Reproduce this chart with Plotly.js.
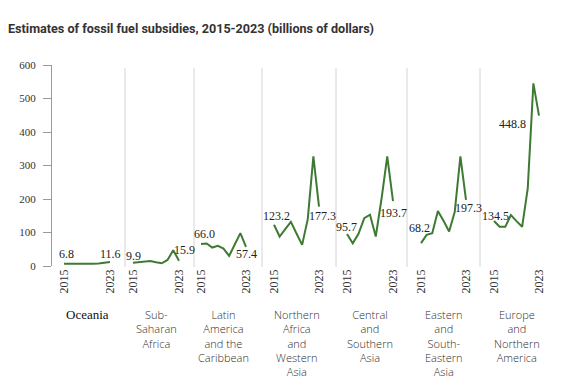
<!DOCTYPE html>
<html>
<head>
<meta charset="utf-8">
<script src="https://cdn.plot.ly/plotly-3.0.1.min.js"></script>
<style>html,body{margin:0;padding:0;background:#fff;}#chart{width:562px;height:387px;}</style>
</head>
<body>
<div id="chart"></div>
<script>
// ---- data ----
const years = [2015, 2016, 2017, 2018, 2019, 2020, 2021, 2022, 2023];
const regions = [
  "Oceania",
  "Sub-<br>Saharan<br>Africa",
  "Latin<br>America<br>and the<br>Caribbean",
  "Northern<br>Africa<br>and<br>Western<br>Asia",
  "Central<br>and<br>Southern<br>Asia",
  "Eastern<br>and<br>South-<br>Eastern<br>Asia",
  "Europe<br>and<br>Northern<br>America"
];
const oceania        = [6.8, 6.5, 6.8, 7.0, 7.2, 6.9, 7.5, 9.0, 11.6];
const subSaharan     = [9.9, 11, 12, 15, 11, 8, 18, 47, 15.9];
const latinAmerica   = [66.0, 67, 55, 60, 52, 30, 64, 98, 57.4];
const northAfricaWAs = [123.2, 88, 110, 132, 97, 63, 140, 327, 177.3];
const centralSouthAs = [95.7, 68, 96, 143, 153, 88, 200, 327, 193.7];
const eastSouthEastAs= [68.2, 93, 98, 164, 135, 103, 162, 327, 197.3];
const europeNAmerica = [134.5, 117, 117, 152, 134, 117, 232, 545, 448.8];
const yTicks = [0, 100, 200, 300, 400, 500, 600];
const xTickVals = [2015, 2023];
const xTickText = ["2015", "2023"];

const series = [oceania, subSaharan, latinAmerica, northAfricaWAs, centralSouthAs, eastSouthEastAs, europeNAmerica];

// ---- layout geometry (pixels) ----
const W = 562, H = 387;
const mL = 52, mR = 10, mT = 65, mB = 121;
const plotW = W - mL - mR, plotH = H - mT - mB;
const bounds = [52, 125, 194, 262, 336, 407, 480, 552];
const pos15 = [64, 133, 201, 274, 347, 421, 494];
const pos23 = [110, 179, 246, 319, 393, 466, 539];
const firstShift = [[2, 10], [0, 7], [3, 10], [2, 9], [-1, 7], [-2, 15], [1, 5]];
const lastShift  = [[0, 8], [5, 11], [0, -7], [3, -9], [0, -12], [2, -8], [-27, -8]];
const labelTop = 305;

const green = "#3f7a33";
const serif = "'Liberation Serif', 'Times New Roman', serif";
const sans = "'Open Sans', Lato, sans-serif";

const traces = [];
const layout = {
  width: W, height: H,
  margin: {l: mL, r: mR, t: mT, b: mB, pad: 0},
  paper_bgcolor: "#fff", plot_bgcolor: "#fff",
  showlegend: false,
  title: {
    text: "<b>Estimates of fossil fuel subsidies, 2015-2023 (billions of dollars)</b>",
    font: {family: "Roboto, sans-serif", size: 12.6, color: "#333"},
    xref: "container", yref: "container",
    x: 8 / W, xanchor: "left",
    y: 1 - 29 / H, yanchor: "middle"
  },
  yaxis: {
    range: [0, 600], tickvals: yTicks, ticktext: yTicks.map(String),
    showgrid: false, zeroline: false,
    showline: true, linecolor: "#9a9a9a", linewidth: 1,
    ticks: "outside", ticklen: 8, tickcolor: "#9a9a9a",
    ticklabelstandoff: 5,
    tickfont: {family: serif, size: 11, color: "#333"},
    fixedrange: true
  },
  shapes: [],
  annotations: []
};

series.forEach((vals, i) => {
  const n = i + 1;
  const xa = n === 1 ? "x" : "x" + n;
  const axKey = n === 1 ? "xaxis" : "xaxis" + n;
  const ppy = (pos23[i] - pos15[i]) / 8;
  const left = 2015 - (pos15[i] - bounds[i]) / ppy;
  const right = 2015 + (bounds[i + 1] - pos15[i]) / ppy;
  layout[axKey] = {
    domain: [(bounds[i] - mL) / plotW, (bounds[i + 1] - mL) / plotW],
    range: [left, right],
    anchor: "y",
    tickvals: xTickVals, ticktext: xTickText,
    tickangle: -90,
    showgrid: false, zeroline: false, showline: false,
    ticks: "",
    tickfont: {family: serif, size: 12, color: "#333"},
    fixedrange: true
  };
  traces.push({
    type: "scatter", mode: "lines",
    x: years, y: vals, xaxis: xa, yaxis: "y",
    line: {color: green, width: 2},
    hoverinfo: "skip"
  });
  if (i > 0) {
    const px = (bounds[i] - mL) / plotW;
    layout.shapes.push({
      type: "line", xref: "paper", yref: "paper",
      x0: px, x1: px, y0: -0.005, y1: 0.985,
      line: {color: "#d4d4d4", width: 1}
    });
  }
  // region label
  layout.annotations.push({
    xref: xa, yref: "paper", x: 2019,
    y: (mT + plotH - labelTop) / plotH,
    xanchor: "center", yanchor: "top", showarrow: false,
    text: regions[i], align: "center",
    font: i === 0 ? {family: serif, size: 13, color: "#111"} : {family: sans, size: 11, color: "#2e2e2e", weight: 300}
  });
  // first and last value labels
  layout.annotations.push({
    xref: xa, yref: "y", x: years[0], y: vals[0],
    xshift: firstShift[i][0], yshift: firstShift[i][1],
    xanchor: "center", yanchor: "middle", showarrow: false,
    text: vals[0].toFixed(1),
    font: {family: serif, size: 12, color: "#222"}
  });
  layout.annotations.push({
    xref: xa, yref: "y", x: years[8], y: vals[8],
    xshift: lastShift[i][0], yshift: lastShift[i][1],
    xanchor: "center", yanchor: "middle", showarrow: false,
    text: vals[8].toFixed(1),
    font: {family: serif, size: 12, color: "#222"}
  });
});

Plotly.newPlot("chart", traces, layout, {displayModeBar: false, staticPlot: true});
</script>
</body>
</html>
